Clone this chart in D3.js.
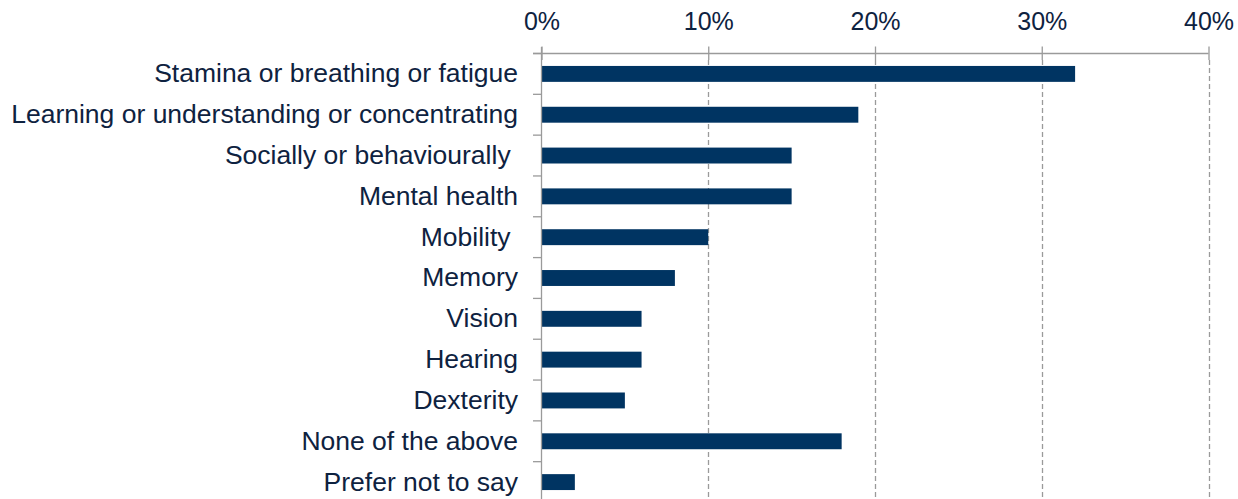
<!DOCTYPE html>
<html><head><meta charset="utf-8">
<script src="https://cdn.jsdelivr.net/npm/d3@7"></script>
<style>html,body{margin:0;padding:0;background:#fff;overflow:hidden}</style>
</head><body><svg id="c" width="1238" height="499"></svg>
<script>
const categories = ["Stamina or breathing or fatigue","Learning or understanding or concentrating","Socially or behaviourally ","Mental health","Mobility ","Memory","Vision","Hearing","Dexterity","None of the above","Prefer not to say"];
const values = [32,19,15,15,10,8,6,6,5,18,2];
const tickValues = [0,10,20,30,40];

const svg = d3.select("#c");
const x = d3.scaleLinear().domain([0,40]).range([541.5,1208.5]);
const y = d3.scaleBand().domain(categories).range([53.5,502.5]).paddingInner(0.61).paddingOuter(0.305);
const txt = "#0e2240", grid = "#9a9a9a", bar = "#003462";
const font = "'Liberation Sans', Arial, sans-serif";

// gridlines
svg.append("g").selectAll("line").data(tickValues.slice(1)).join("line")
  .attr("x1",d=>Math.round(x(d))+0.5).attr("x2",d=>Math.round(x(d))+0.5)
  .attr("y1",60).attr("y2",499)
  .attr("stroke",grid).attr("stroke-width",1.3).attr("stroke-dasharray","5,3");

// top axis
const xAxis = d3.axisTop(x).tickValues(tickValues).tickFormat(d=>d+"%").tickSize(7).tickPadding(24);
const gx = svg.append("g").attr("transform","translate(0,53.5)").call(xAxis);
gx.select(".domain").attr("stroke",grid).attr("stroke-width",1.3).attr("d","M533,0H"+x(40));
gx.selectAll(".tick line").attr("stroke",grid).attr("stroke-width",1.3).attr("y2",-7).attr("y1",6.5);
gx.selectAll(".tick text").attr("fill",txt).attr("font-family",font).attr("font-size",25)
  .attr("dy",null).attr("y",-23.5);

// bars
svg.append("g").selectAll("rect").data(values).join("rect")
  .attr("x",x(0)).attr("y",(d,i)=>y(categories[i]))
  .attr("width",d=>x(d)-x(0)).attr("height",y.bandwidth())
  .attr("fill",bar);

// left axis
const gy = svg.append("g").attr("transform","translate("+x(0)+",0)");
gy.append("line").attr("x1",0).attr("x2",0).attr("y1",47).attr("y2",499).attr("stroke",grid).attr("stroke-width",1.3);
const step = y.step();
const bounds = d3.range(categories.length+1).map(i=>y.range()[0]+i*step);
gy.selectAll("line.t").data(bounds).join("line").attr("class","t")
  .attr("x1",-8.5).attr("x2",0).attr("y1",d=>d).attr("y2",d=>d)
  .attr("stroke",grid).attr("stroke-width",1.3);
const yAxis = d3.axisLeft(y).tickSize(0).tickPadding(23.5);
const gyl = svg.append("g").attr("transform","translate("+x(0)+",0)").call(yAxis);
gyl.select(".domain").remove();
gyl.selectAll(".tick text").attr("fill",txt).attr("font-family",font).attr("font-size",26.5)
  .style("white-space","pre").attr("xml:space","preserve");
</script></body></html>
